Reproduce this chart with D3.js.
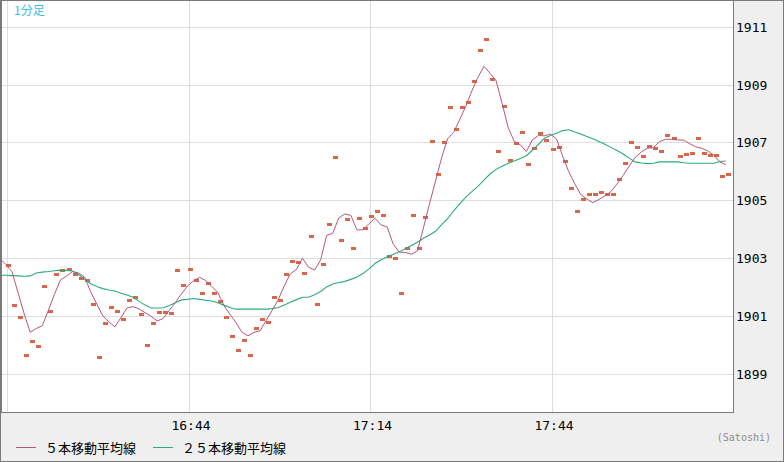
<!DOCTYPE html>
<html>
<head>
<meta charset="utf-8">
<script src="https://cdn.jsdelivr.net/npm/d3@7"></script>
<style>
  body { margin: 0; background: #efefef; }
  svg { display: block; }
</style>
</head>
<body>
<script>
var width = 784, height = 462;
var plotRight = 733, plotBottom = 412;

// 1分足 closes, 16:14 .. 18:13
var closes = [
  1902.75,1901.37,1900.96,1899.65,1900.13,1899.96,1902.03,1901.17,1902.44,1902.58,
  1902.62,1902.44,1902.31,1902.24,1901.41,1899.58,1900.75,1901.30,1901.17,1900.89,
  1901.55,1901.65,1901.06,1899.99,1900.75,1901.13,1901.13,1901.10,1902.58,1902.06,
  1902.62,1902.24,1901.79,1902.13,1901.79,1901.49,1900.96,1900.30,1899.82,1900.16,
  1899.65,1900.58,1900.89,1900.79,1901.65,1901.55,1902.44,1902.89,1902.86,1902.48,
  1903.76,1901.41,1902.79,1904.17,1906.49,1903.62,1904.35,1903.34,1904.38,1904.03,
  1904.45,1904.62,1904.48,1903.07,1903.00,1901.79,1903.34,1904.48,1903.34,1904.41,
  1907.04,1905.90,1907.01,1908.22,1907.45,1908.22,1908.39,1909.11,1910.18,1910.56,
  1909.18,1906.69,1908.25,1906.38,1906.97,1907.35,1906.25,1906.80,1907.32,1907.07,
  1906.76,1906.83,1906.35,1905.42,1904.62,1905.04,1905.21,1905.21,1905.28,1905.21,
  1905.21,1905.73,1906.28,1907.01,1906.83,1906.52,1906.87,1906.80,1906.69,1907.25,
  1907.14,1906.52,1906.59,1906.63,1907.14,1906.63,1906.56,1906.56,1905.83,1905.90
];

// ５本移動平均線, 16:13 .. 18:13
var ma5 = [
  1902.99,1902.78,1902.53,1901.80,1901.08,1900.44,1900.57,1900.67,1901.20,1901.75,
  1902.25,1902.38,1902.54,1902.49,1902.35,1901.84,1901.42,1901.01,1900.80,1900.63,
  1900.95,1901.28,1901.33,1901.25,1901.12,1900.99,1900.83,1900.92,1901.20,1901.47,
  1901.77,1902.04,1902.22,1902.34,1902.23,1902.03,1901.82,1901.37,1901.07,1900.78,
  1900.44,1900.32,1900.44,1900.49,1900.85,1901.20,1901.57,1902.05,1902.46,1902.61,
  1903.00,1902.69,1902.59,1902.94,1903.79,1903.86,1904.39,1904.53,1904.48,1903.98,
  1903.98,1904.19,1904.38,1904.15,1904.08,1903.49,1903.21,1903.20,1903.14,1903.25,
  1904.05,1904.88,1905.67,1906.47,1907.13,1907.35,1907.80,1908.25,1908.78,1909.25,
  1909.63,1909.39,1909.14,1908.35,1907.52,1907.04,1906.92,1906.69,1907.09,1907.24,
  1907.23,1907.29,1907.12,1906.53,1906.00,1905.58,1905.20,1905.05,1904.92,1905.03,
  1905.16,1905.30,1905.57,1905.86,1906.18,1906.49,1906.67,1906.80,1906.82,1907.03,
  1907.11,1907.11,1907.09,1907.08,1906.96,1906.85,1906.80,1906.71,1906.56,1906.33,
  1906.23
];

// ２５本移動平均線, 16:13 .. 18:13
var ma25 = [
  1902.41,1902.41,1902.40,1902.39,1902.38,1902.39,1902.49,1902.52,1902.54,1902.57,
  1902.59,1902.58,1902.56,1902.44,1902.28,1902.12,1902.02,1901.95,1901.90,1901.87,
  1901.79,1901.73,1901.65,1901.51,1901.38,1901.28,1901.28,1901.29,1901.37,1901.46,
  1901.56,1901.58,1901.61,1901.58,1901.55,1901.52,1901.46,1901.38,1901.30,1901.24,
  1901.24,1901.24,1901.24,1901.24,1901.24,1901.26,1901.30,1901.38,1901.48,1901.57,
  1901.65,1901.65,1901.74,1901.85,1902.01,1902.11,1902.16,1902.20,1902.27,1902.35,
  1902.47,1902.63,1902.82,1902.95,1903.05,1903.13,1903.22,1903.33,1903.44,1903.55,
  1903.69,1903.80,1903.93,1904.16,1904.37,1904.64,1904.88,1905.11,1905.30,1905.48,
  1905.70,1905.91,1906.07,1906.18,1906.28,1906.36,1906.45,1906.54,1906.73,1906.93,
  1907.15,1907.24,1907.32,1907.41,1907.44,1907.36,1907.29,1907.21,1907.13,1907.03,
  1906.94,1906.83,1906.72,1906.60,1906.46,1906.33,1906.29,1906.27,1906.28,1906.33,
  1906.33,1906.33,1906.33,1906.30,1906.28,1906.28,1906.28,1906.28,1906.28,1906.34,
  1906.36
];

var yTicks = [1899, 1901, 1903, 1905, 1907, 1909, 1911];
var xTickLabels = ["16:14", "16:44", "17:14", "17:44", "18:14"];
var legendNames = ["５本移動平均線", "２５本移動平均線"];
var colors = { close: "#d8664b", ma5: "#b4577f", ma25: "#2bab77" };

function hm(s){
    var p = s.split(":");
    return new Date(2020, 0, 1, +p[0], +p[1]);
}
function minuteAt(start, i){
    return new Date(start.getTime() + i * 60000);
}

var t0 = hm("16:13");
var closeData = closes.map(function(v, i){ return { t: minuteAt(t0, i + 1), v: v }; });
var ma5Data = ma5.map(function(v, i){ return { t: minuteAt(t0, i), v: v }; });
var ma25Data = ma25.map(function(v, i){ return { t: minuteAt(t0, i), v: v }; });

var scaleX = d3.scaleTime().domain([hm("16:14"), hm("18:14")]).range([6, 732]);
var scaleY = d3.scaleLinear().domain([1899, 1911]).range([374, 26.7]);

var svg = d3.select("body").append("svg").attr("width", width).attr("height", height);

// frame
svg.append("rect").attr("x", 0.5).attr("y", 0.5).attr("width", width - 1).attr("height", height - 1)
    .attr("fill", "#efefef").attr("stroke", "#7a7a7a");
svg.append("rect").attr("x", 0.5).attr("y", 0.5).attr("width", plotRight).attr("height", plotBottom)
    .attr("fill", "#ffffff");

svg.append("defs").append("clipPath").attr("id", "plotclip")
    .append("rect").attr("x", 2).attr("y", 1).attr("width", plotRight - 2).attr("height", plotBottom - 1);

// grid
var grid = svg.append("g").attr("shape-rendering", "crispEdges").attr("stroke", "#dddddd");
grid.selectAll("line.h").data(yTicks).enter().append("line").attr("class", "h")
    .attr("x1", 1).attr("x2", plotRight)
    .attr("y1", function(d){ return Math.round(scaleY(d)) + 0.5; })
    .attr("y2", function(d){ return Math.round(scaleY(d)) + 0.5; });
grid.selectAll("line.v").data(xTickLabels.slice(0, 4)).enter().append("line").attr("class", "v")
    .attr("y1", 1).attr("y2", plotBottom)
    .attr("x1", function(d){ return Math.round(scaleX(hm(d))) + 1.5; })
    .attr("x2", function(d){ return Math.round(scaleX(hm(d))) + 1.5; });

var plot = svg.append("g").attr("clip-path", "url(#plotclip)");

// closes
plot.selectAll("rect.c").data(closeData).enter().append("rect").attr("class", "c")
    .attr("x", function(d){ return Math.round(scaleX(d.t)); })
    .attr("y", function(d){ return Math.round(scaleY(d.v) - 1.5); })
    .attr("width", 5).attr("height", 3)
    .attr("fill", colors.close);

var line = d3.line().x(function(d){ return scaleX(d.t); }).y(function(d){ return scaleY(d.v); });
plot.append("path").datum(ma25Data).attr("d", line)
    .attr("fill", "none").attr("stroke", colors.ma25).attr("stroke-width", 1.1);
plot.append("path").datum(ma5Data).attr("d", line)
    .attr("fill", "none").attr("stroke", colors.ma5).attr("stroke-width", 1);

// plot border (left edge is doubled with the outer frame)
svg.append("rect").attr("x", 0.5).attr("y", 0.5).attr("width", plotRight).attr("height", plotBottom)
    .attr("fill", "none").attr("stroke", "#7a7a7a");
svg.append("line").attr("x1", 1.5).attr("x2", 1.5).attr("y1", 0).attr("y2", plotBottom)
    .attr("stroke", "#7a7a7a");

// y labels
svg.selectAll("text.y").data(yTicks).enter().append("text").attr("class", "y")
    .attr("x", 736).attr("y", function(d){ return scaleY(d) + 5; })
    .attr("font-family", "DejaVu Sans Mono, monospace").attr("font-size", "13px")
    .attr("fill", "#000").text(function(d){ return d; });

// x labels
svg.selectAll("text.x").data(xTickLabels.slice(1, 4)).enter().append("text").attr("class", "x")
    .attr("x", function(d){ return scaleX(hm(d)) + 3.5; }).attr("y", 430)
    .attr("text-anchor", "middle")
    .attr("font-family", "DejaVu Sans Mono, monospace").attr("font-size", "13px")
    .attr("fill", "#000").text(function(d){ return d; });

// legend
var legendX = [16, 153];
var legendColors = [colors.ma5, colors.ma25];
legendNames.forEach(function(name, i){
    svg.append("line").attr("x1", legendX[i]).attr("x2", legendX[i] + 20)
        .attr("y1", 447.5).attr("y2", 447.5)
        .attr("stroke", legendColors[i]).attr("stroke-width", 1);
    svg.append("text").attr("x", legendX[i] + 29).attr("y", 453)
        .attr("font-family", "Noto Sans CJK JP").attr("font-size", "13px")
        .attr("fill", "#000").text(name);
});

svg.append("text").attr("x", 771).attr("y", 441).attr("text-anchor", "end")
    .attr("font-family", "DejaVu Sans Mono, monospace").attr("font-size", "10px")
    .attr("fill", "#8c8c8c").text("(Satoshi)");

svg.append("text").attr("x", 14).attr("y", 15)
    .attr("font-family", "Noto Sans CJK JP").attr("font-size", "12px")
    .attr("fill", "#3bbde9").text("1分足");
</script>
</body>
</html>
